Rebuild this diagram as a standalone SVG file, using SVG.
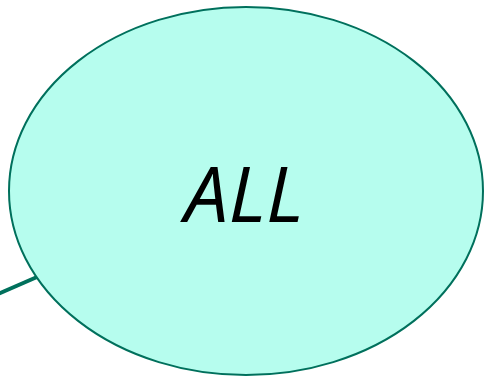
<svg xmlns="http://www.w3.org/2000/svg" width="488" height="376" viewBox="0 0 488 376">
<style>
.edge{stroke:#00705c;stroke-width:4;fill:none}
.node{fill:#b6fdee;stroke:#00705c;stroke-width:2}
.lbl{font-family:"Open Sans","Liberation Sans",sans-serif;font-style:italic;font-size:76px;fill:#000}
</style>
<g id="connectors">
<line class="edge" x1="-2" y1="294" x2="37" y2="277"/>
</g>
<g id="node-all">
<ellipse class="node" cx="246" cy="191" rx="237" ry="184"/>
<text class="lbl" x="244" y="222" text-anchor="middle" textLength="119" lengthAdjust="spacingAndGlyphs">ALL</text>
</g>
</svg>
